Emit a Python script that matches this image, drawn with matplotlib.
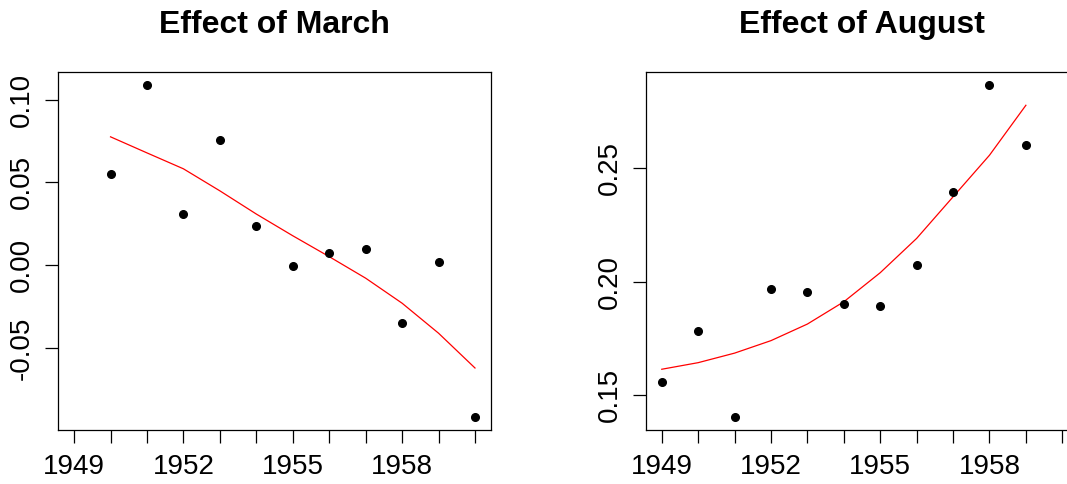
import numpy as np
import matplotlib
matplotlib.use("Agg")
import matplotlib.pyplot as plt

plt.rcParams['font.family'] = ['Liberation Sans', 'DejaVu Sans']

# Effect of March (years 1950-1960)
march_years = list(range(1950, 1961))
march_effect = [0.0552, 0.1086, 0.0309, 0.0757, 0.0239, -0.0004, 0.0074, 0.0098, -0.0349, 0.0020, -0.0914]
march_trend = [0.0775, 0.0678, 0.0582, 0.0449, 0.0309, 0.0178, 0.0052, -0.0078, -0.0229, -0.0410, -0.0620]

# Effect of August (years 1949-1959)
aug_years = list(range(1949, 1960))
aug_effect = [0.1560, 0.1783, 0.1405, 0.1966, 0.1954, 0.1901, 0.1891, 0.2074, 0.2395, 0.2864, 0.2600]
aug_trend = [0.1614, 0.1643, 0.1685, 0.1740, 0.1813, 0.1911, 0.2039, 0.2190, 0.2373, 0.2556, 0.2776]

tick_years = list(range(1949, 1961))
label_years = [1949, 1952, 1955, 1958]

fig = plt.figure(figsize=(10.67, 4.84), dpi=100)
ax1 = fig.add_axes([0.0544, 0.1116, 0.4058, 0.7396])
ax2 = fig.add_axes([0.6052, 0.1116, 0.4054, 0.7396])


def r_style(ax, x, y, trend, title, yticks):
    ax.plot(x, trend, color='red', lw=0.9)
    ax.plot(x, y, 'o', color='black', ms=5.5)
    ax.set_xlim(1949 - 0.44, 1960 + 0.44)
    lo, hi = min(y), max(y)
    pad = (hi - lo) * 0.04
    ax.set_ylim(lo - pad, hi + pad)
    ax.set_xticks(tick_years)
    ax.set_xticklabels([str(t) if t in label_years else '' for t in tick_years])
    ax.set_yticks(yticks)
    ax.set_yticklabels(['%.2f' % v for v in yticks], rotation=90, va='center')
    ax.tick_params(axis='both', direction='out', length=9.5, width=0.9,
                   labelsize=20, colors='black')
    ax.tick_params(axis='x', pad=8)
    ax.tick_params(axis='y', pad=7)
    for s in ax.spines.values():
        s.set_linewidth(0.9)
    ax.set_title(title, fontsize=23, fontweight='bold', pad=28)


r_style(ax1, march_years, march_effect, march_trend, 'Effect of March',
        [-0.05, 0.00, 0.05, 0.10])
r_style(ax2, aug_years, aug_effect, aug_trend, 'Effect of August',
        [0.15, 0.20, 0.25])

fig.savefig('out.png', dpi=100)
